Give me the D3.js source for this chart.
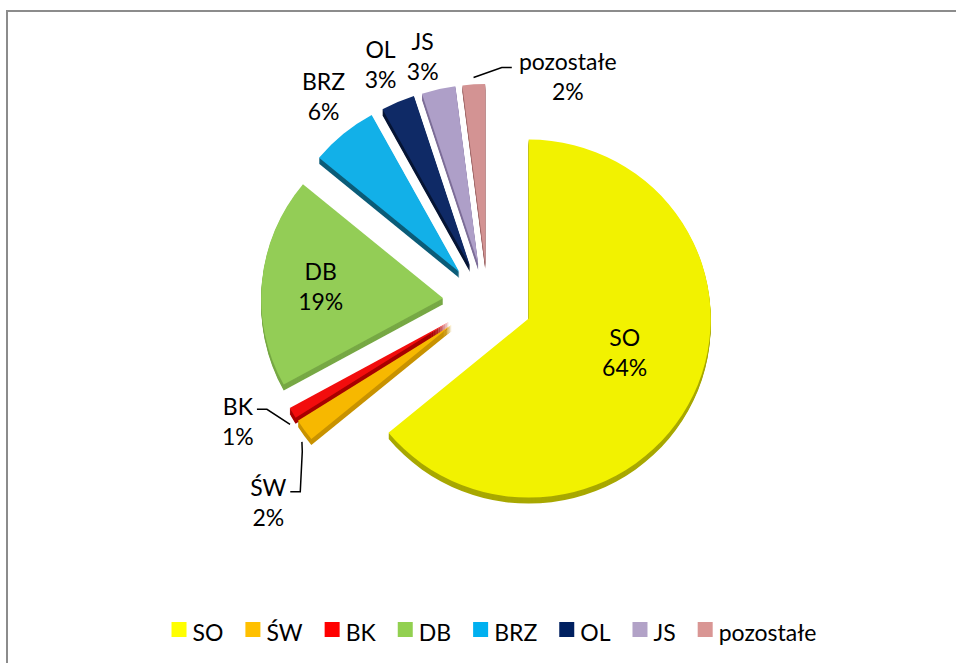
<!DOCTYPE html>
<html>
<head>
<meta charset="utf-8">
<script src="https://cdn.jsdelivr.net/npm/d3@7"></script>
<style>
  body { margin: 0; background: #fff; }
  text { font-family: Lato, "Open Sans", sans-serif; fill: #000; }
</style>
</head>
<body>
<div id="chart"></div>
<script>
// data
const categories = ["SO", "ŚW", "BK", "DB", "BRZ", "OL", "JS", "pozostałe"];
const shares = [64, 2, 1, 19, 6, 3, 3, 2];

// colours (top face, extruded side, legend key)
const topColors = ["#f2f200", "#f7b800", "#f20d0d", "#93cd56", "#12b0e8", "#0f2a66", "#ae9fc8", "#d39393"];
const sideColors = ["#a8a800", "#c89200", "#a80000", "#77a845", "#0b5c78", "#061535", "#7d6e98", "#9e6666"];
const legendColors = ["#ffff00", "#ffc000", "#ff0000", "#92d050", "#00b0f0", "#002060", "#b2a2c7", "#d99694"];

// layout
const W = 956, H = 663;
const CX = 488, CY = 302;
const R = 182, KY = 179 / 182;
const EXPLODE_X = 45, EXPLODE_Y = 39;
const DEPTH = 6;
const FONT = 23;

// where each data label sits (polar radius from centre + nudge)
const labelLayout = {
    "SO": { r: 151, dx: 0, dy: -13 },
    "ŚW": { r: 258, dx: -11, dy: 49, leader: [[34, -51], [32, -11], [22, -11]] },
    "BK": { r: 258, dx: -28, dy: -11, leader: [[29, -13], [19, -13]] },
    "DB": { r: 168, dx: 0, dy: 1 },
    "BRZ": { r: 258, dx: 0, dy: -6 },
    "OL": { r: 258, dx: -5, dy: 0 },
    "JS": { r: 258, dx: -9, dy: 7 },
    "pozostałe": { r: 258, dx: 96, dy: 32, leader: [[-66, -9], [-56, -9]] }
};

const svg = d3.select("#chart").append("svg")
    .attr("width", W)
    .attr("height", H);

// chart frame
svg.append("rect")
    .attr("x", 7).attr("y", 11)
    .attr("width", 1000).attr("height", 700)
    .attr("fill", "#fff")
    .attr("stroke", "#8c8c8c")
    .attr("stroke-width", 2);

const pie = d3.pie().value(d => d).sort(null);
const arcs = pie(shares);
const arc = d3.arc().innerRadius(0).outerRadius(R);

const mid = d => (d.startAngle + d.endAngle) / 2;
const vertexOf = d => [CX + Math.sin(mid(d)) * EXPLODE_X, CY - Math.cos(mid(d)) * EXPLODE_Y];

// extruded sides first (all slices), then top faces
const sides = svg.append("g").attr("class", "sides");
arcs.forEach((d, i) => {
    const [vx, vy] = vertexOf(d);
    for (let t = DEPTH; t >= 1; t--) {
        sides.append("path")
            .attr("transform", `translate(${vx},${vy + t}) scale(1,${KY})`)
            .attr("d", arc(d))
            .attr("fill", sideColors[i]);
    }
});

const tops = svg.append("g").attr("class", "tops");
arcs.forEach((d, i) => {
    const [vx, vy] = vertexOf(d);
    tops.append("path")
        .attr("transform", `translate(${vx},${vy}) scale(1,${KY})`)
        .attr("d", arc(d))
        .attr("fill", topColors[i]);
});

// data labels
const labels = svg.append("g").attr("class", "labels");
arcs.forEach((d, i) => {
    const lay = labelLayout[categories[i]];
    const a = mid(d);
    const lx = CX + Math.sin(a) * lay.r + lay.dx;
    const ly = CY - Math.cos(a) * lay.r + lay.dy;

    const t = labels.append("text")
        .attr("text-anchor", "middle")
        .attr("font-size", FONT);
    t.append("tspan").attr("x", lx).attr("y", ly - 7).text(categories[i]);
    t.append("tspan").attr("x", lx).attr("y", ly + 23).text(shares[i] + "%");

    if (lay.leader) {
        // leader starts on the slice rim
        const [vx, vy] = vertexOf(d);
        const up = Math.cos(a) > 0;
        const start = [vx + Math.sin(a) * (R + 3), vy - Math.cos(a) * (R + 3) * KY + (up ? -4 : DEPTH + 4)];
        const pts = [start].concat(lay.leader.map(p => [lx + p[0], ly + p[1]]));
        labels.append("path")
            .attr("d", d3.line()(pts))
            .attr("fill", "none")
            .attr("stroke", "#000")
            .attr("stroke-width", 1.5);
    }
});

// legend
const legend = svg.append("g").attr("class", "legend");
const items = legend.selectAll("g")
    .data(categories)
    .enter()
    .append("g");

items.append("rect")
    .attr("width", 15).attr("height", 15)
    .attr("y", 622)
    .attr("fill", (d, i) => legendColors[i]);

items.append("text")
    .attr("x", 21)
    .attr("y", 641)
    .attr("font-size", FONT)
    .text(d => d);

// flow the legend entries and centre them
let x = 0;
const offsets = [];
items.each(function() {
    offsets.push(x);
    const w = d3.select(this).select("text").node().getComputedTextLength();
    x += 21 + w + 22;
});
const total = x - 22;
const startX = 494 - total / 2;
items.attr("transform", (d, i) => `translate(${startX + offsets[i]},0)`);
</script>
</body>
</html>
